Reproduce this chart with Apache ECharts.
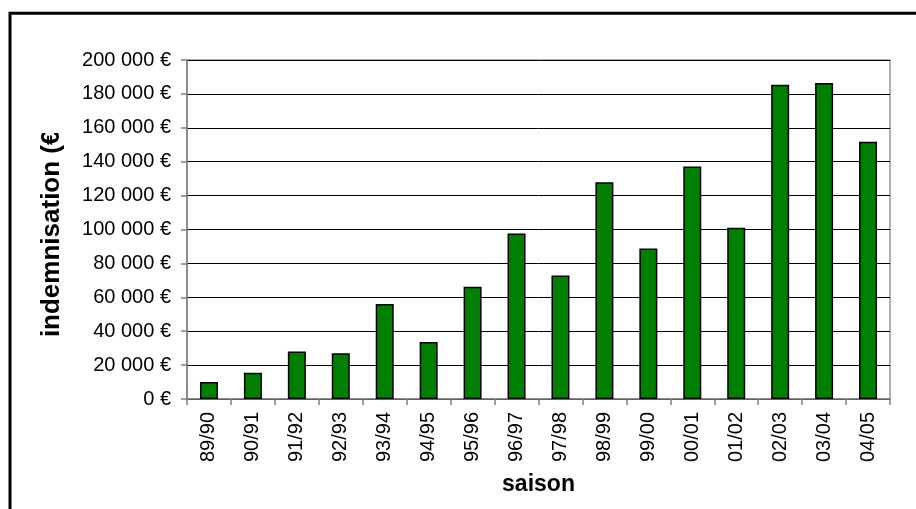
<!DOCTYPE html>
<html>
<head>
<meta charset="utf-8">
<script src="https://cdn.jsdelivr.net/npm/echarts@6/dist/echarts.min.js"></script>
<style>
html,body{margin:0;padding:0;background:#fff;}
#chart{width:916px;height:509px;}
</style>
</head>
<body>
<div id="chart"></div>
<script>
const categories = ['89/90','90/91','91/92','92/93','93/94','94/95','95/96','96/97','97/98','98/99','99/00','00/01','01/02','02/03','03/04','04/05'];
const values = [10000,15500,28000,27000,56000,33600,66200,97600,72900,127900,88800,137100,101000,185400,186400,151700];
const yTicks = {min:0, max:200000, interval:20000};
const xName = 'saison';
const yName = 'indemnisation (€)';

const FONT = '"Liberation Sans", Arial, sans-serif';
function fmt(v){
  return String(v).replace(/\B(?=(\d{3})+(?!\d))/g, ' ') + ' €';
}
const chart = echarts.init(document.getElementById('chart'), null, {renderer:'canvas'});
chart.setOption({
  backgroundColor:'#ffffff',
  animation:false,
  grid:{left:187, right:26, top:60, bottom:110, containLabel:false, show:true, borderColor:'#999999', borderWidth:1.5, backgroundColor:'transparent'},
  xAxis:{
    type:'category',
    data:categories,
    name:xName,
    nameLocation:'middle',
    nameGap:74,
    nameTextStyle:{fontFamily:FONT, fontWeight:'bold', fontSize:23, color:'#000'},
    axisLine:{lineStyle:{color:'#808080', width:1.5}},
    axisTick:{show:true, alignWithLabel:false, length:6, lineStyle:{color:'#808080', width:1.5}},
    axisLabel:{rotate:90, fontFamily:FONT, fontSize:20, color:'#000', margin:13},
    splitLine:{show:false}
  },
  yAxis:{
    type:'value',
    min:yTicks.min, max:yTicks.max, interval:yTicks.interval,
    name:yName,
    nameLocation:'middle',
    nameGap:122,
    nameTextStyle:{fontFamily:FONT, fontWeight:'bold', fontSize:26, color:'#000'},
    axisLine:{show:true, lineStyle:{color:'#808080', width:1.5}},
    axisTick:{show:true, length:6, lineStyle:{color:'#808080', width:1.5}},
    axisLabel:{formatter:fmt, fontFamily:FONT, fontSize:20, color:'#000', margin:16},
    splitLine:{show:true, lineStyle:{color:'#000', width:1}}
  },
  series:[{
    type:'bar',
    data:values,
    barWidth:18,
    itemStyle:{color:'#008000', borderColor:'#000', borderWidth:1.5}
  }],
  graphic:[{
    type:'rect',
    shape:{x:34, y:95, width:36, height:38},
    style:{fill:'#ffffff'},
    silent:true, z:90
  },{
    type:'rect',
    shape:{x:10, y:13.3, width:1200, height:1200},
    style:{fill:'none', stroke:'#000', lineWidth:3},
    silent:true, z:100
  }]
});
</script>
</body>
</html>
